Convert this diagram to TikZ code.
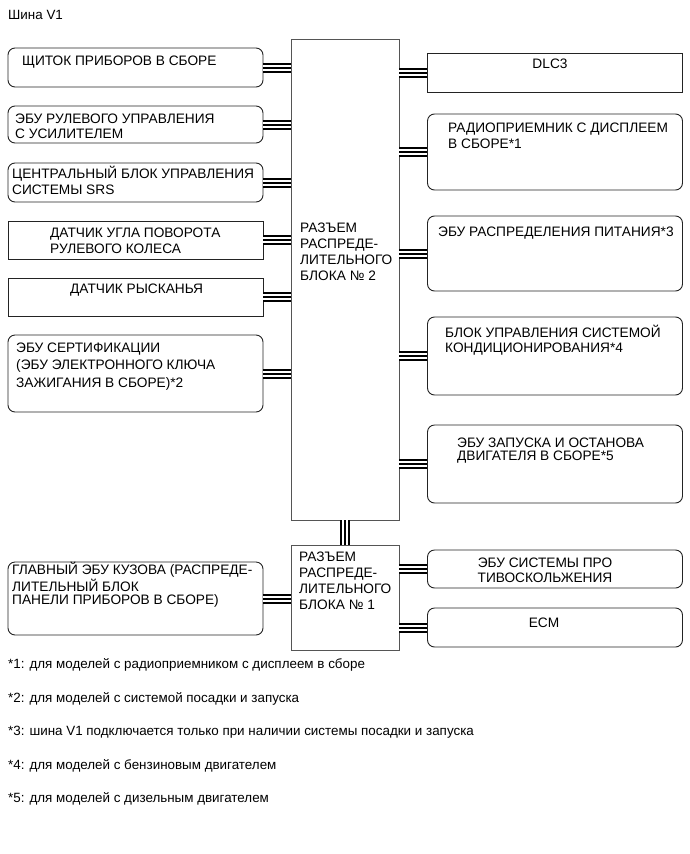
\documentclass[tikz,border=0pt]{standalone}
\usepackage{fontspec}
\setmainfont{Liberation Sans}
\usepackage{tikz}
\usetikzlibrary{positioning, calc}
\definecolor{mydark}{RGB}{35,35,35}
\definecolor{mygray}{RGB}{85,85,85}
\tikzset{
  unit/.style={rectangle, draw=mydark, line width=0.9pt, inner sep=0pt,
    minimum width=255pt},
  rbox/.style={unit, rounded corners=7pt},
  sbox/.style={unit},
  dist/.style={rectangle, draw=mygray, line width=0.9pt, inner sep=0pt,
    minimum width=108pt},
  % base of a multi-line label = baseline of its last line
  txt/.style={inner sep=0pt, anchor=base west, align=left,
    font=\fontsize{13.7}{#1}\selectfont},
  txt/.default=16,
  note/.style={inner sep=0pt, anchor=base west, font=\fontsize{13.4}{15}\selectfont},
  bus/.style={line width=10pt, draw=black,
    postaction={draw=white, line width=6pt},
    postaction={draw=black, line width=2pt}}
}

\begin{document}
\begin{tikzpicture}[x=1pt, y=-1pt]
    \useasboundingbox (0,0) rectangle (689,854);
    \node[note] (title) at (8,19.5) {Шина V1};

    % Junction connectors
    \node[dist, minimum height=481pt] (jb2) at (345,279.5) {};
    \node[txt] (jb2-txt) at (300,280) {РАЗЪЕМ\\РАСПРЕДЕ-\\ЛИТЕЛЬНОГО\\БЛОКА № 2};
    \node[dist, minimum height=105pt] (jb1) at (345,597.5) {};
    \node[txt] (jb1-txt) at (299,609) {РАЗЪЕМ\\РАСПРЕДЕ-\\ЛИТЕЛЬНОГО\\БЛОКА № 1};
    \draw[bus] (jb2.south) -- (jb1.north);

    % Left side units
    \node[rbox, minimum height=39pt] (combimeter) at (135.5,67.5) {};
    \node[txt] at (22,65) {ЩИТОК ПРИБОРОВ В СБОРЕ};

    \node[rbox, minimum height=37pt] (eps) at (135.5,124.5) {};
    \node[txt=15] at (15,138) {ЭБУ РУЛЕВОГО УПРАВЛЕНИЯ\\С УСИЛИТЕЛЕМ};

    \node[rbox, minimum height=39pt] (airbag) at (135.5,182.5) {};
    \node[txt=16.5] at (12,194.5) {ЦЕНТРАЛЬНЫЙ БЛОК УПРАВЛЕНИЯ\\СИСТЕМЫ SRS};

    \node[sbox, minimum height=38pt] (steer) at (135.5,240) {};
    \node[txt] at (50,253) {ДАТЧИК УГЛА ПОВОРОТА\\РУЛЕВОГО КОЛЕСА};

    \node[sbox, minimum height=38pt] (yaw) at (135.5,297) {};
    \node[txt] at (70,293) {ДАТЧИК РЫСКАНЬЯ};

    \node[rbox, minimum height=77pt] (certif) at (135.5,373.5) {};
    \node[txt=17.5] at (16,387) {ЭБУ СЕРТИФИКАЦИИ\\(ЭБУ ЭЛЕКТРОННОГО КЛЮЧА\\ЗАЖИГАНИЯ В СБОРЕ)*2};

    \node[rbox, minimum height=73pt] (mainbody) at (135.5,598.5) {};
    \node[txt=13] at (12,604) {ГЛАВНЫЙ ЭБУ КУЗОВА (РАСПРЕДЕ-\\ЛИТЕЛЬНЫЙ БЛОК\\ПАНЕЛИ ПРИБОРОВ В СБОРЕ)};

    % Right side units
    \node[sbox, minimum height=39pt] (dlc) at (555,72.5) {};
    \node[txt, anchor=base] at (550,68) {DLC3};

    \node[rbox, minimum height=76pt] (radio) at (555,152) {};
    \node[txt] at (448,148) {РАДИОПРИЕМНИК С ДИСПЛЕЕМ\\В СБОРЕ*1};

    \node[rbox, minimum height=75pt] (powerecu) at (555,253.5) {};
    \node[txt] at (438,236) {ЭБУ РАСПРЕДЕЛЕНИЯ ПИТАНИЯ*3};

    \node[rbox, minimum height=78pt] (aircon) at (555,356) {};
    \node[txt=15] at (445,352) {БЛОК УПРАВЛЕНИЯ СИСТЕМОЙ\\КОНДИЦИОНИРОВАНИЯ*4};

    \node[rbox, minimum height=78pt] (stopstart) at (555,464) {};
    \node[txt=13.5] at (457,460.5) {ЭБУ ЗАПУСКА И ОСТАНОВА\\ДВИГАТЕЛЯ В СБОРЕ*5};

    \node[rbox, minimum height=38pt] (skid) at (555,569) {};
    \node[txt=15, anchor=base, align=center] at (545,582) {ЭБУ СИСТЕМЫ ПРО\\ТИВОСКОЛЬЖЕНИЯ};

    \node[rbox, minimum height=39pt] (ecm) at (555,627.5) {};
    \node[txt, anchor=base] at (544,627) {ECM};

    % Bus lines
    \draw[bus] (combimeter.east) -- (combimeter.east -| jb2.west);
    \draw[bus] (eps.east) -- (eps.east -| jb2.west);
    \draw[bus] (airbag.east) -- (airbag.east -| jb2.west);
    \draw[bus] (steer.east) -- (steer.east -| jb2.west);
    \draw[bus] (yaw.east) -- (yaw.east -| jb2.west);
    \draw[bus] (certif.east) -- (certif.east -| jb2.west);
    \draw[bus] (mainbody.east) -- (mainbody.east -| jb1.west);
    \draw[bus] (dlc.west) -- (dlc.west -| jb2.east);
    \draw[bus] (radio.west) -- (radio.west -| jb2.east);
    \draw[bus] (powerecu.west) -- (powerecu.west -| jb2.east);
    \draw[bus] (aircon.west) -- (aircon.west -| jb2.east);
    \draw[bus] (stopstart.west) -- (stopstart.west -| jb2.east);
    \draw[bus] (skid.west) -- (skid.west -| jb1.east);
    \draw[bus] (ecm.west) -- (ecm.west -| jb1.east);

    % Footnotes
    \node[note] (fn1) at (8,668) {*1: для моделей с радиоприемником с дисплеем в сборе};
    \node[note] (fn2) at (8,702) {*2: для моделей с системой посадки и запуска};
    \node[note] (fn3) at (8,735) {*3: шина V1 подключается только при наличии системы посадки и запуска};
    \node[note] (fn4) at (8,769) {*4: для моделей с бензиновым двигателем};
    \node[note] (fn5) at (8,802) {*5: для моделей с дизельным двигателем};
\end{tikzpicture}
\end{document}
